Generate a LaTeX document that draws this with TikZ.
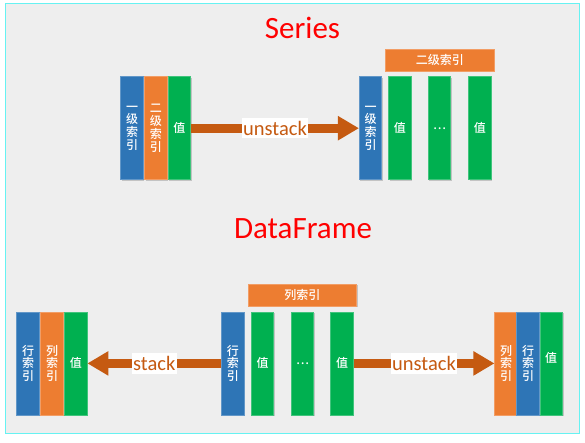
\documentclass[tikz,border=0pt]{standalone}
\usepackage{fontspec}
\setmainfont{Carlito}
\newfontfamily\cjk{Noto Sans CJK SC Medium}
\usetikzlibrary{arrows.meta,shadows}
\definecolor{cblue}{HTML}{2E75B6}
\definecolor{corange}{HTML}{ED7D31}
\definecolor{cgreen}{HTML}{00B050}
\definecolor{carrow}{HTML}{C55A11}
\definecolor{cbg}{HTML}{EEEEEE}
\definecolor{cframe}{HTML}{66F2F2}
\tikzset{
  bar/.style={rectangle, minimum width=22.5pt, minimum height=103pt, inner sep=0pt,
    text=white, align=center, font=\cjk\fontsize{12}{12.9}\selectfont,
    draw=#1!75!white, line width=0.6pt, fill=#1,
    drop shadow={shadow xshift=1.2pt, shadow yshift=-1.2pt, opacity=0.18, fill=black}},
  header/.style={rectangle, minimum width=108.5pt, minimum height=22pt, inner sep=0pt,
    text=white, font=\cjk\fontsize{12}{12.9}\selectfont,
    draw=corange!75!white, line width=0.6pt, fill=corange,
    drop shadow={shadow xshift=1.2pt, shadow yshift=-1.2pt, opacity=0.18, fill=black}},
  arr/.style={draw=carrow, line width=9pt, -{Triangle[length=21pt,width=23pt]}},
  lab/.style={fill=white, text=carrow, inner xsep=1.5pt, inner ysep=3pt,
    font=\fontsize{20.5}{24}\selectfont},
  title/.style={text=red, font=\fontsize{31}{34}\selectfont, anchor=base, inner sep=0pt}
}
\begin{document}
\begin{tikzpicture}[x=1pt,y=-1pt]
\useasboundingbox (0,0) rectangle (585,442);
\fill[white] (0,0) rectangle (585,442);
\draw[cframe, fill=cbg, line width=1pt] (5,3.5) rectangle (579.5,433.5);

% titles
\node[title] (t1) at (302.5,38) {Series};
\node[title] (t2) at (303,238) {DataFrame};

% Series left
\node[bar=cblue] (sa) at (132,128.2) {一\\级\\索\\引};
\node[bar=corange] (sb) at (155.8,128.2) {二\\级\\索\\引};
\node[bar=cgreen] (sc) at (179.4,128.2) {值};

% Series right
\node[bar=cblue] (ra) at (370.5,128.2) {一\\级\\索\\引};
\node[bar=cgreen] (rb) at (399.9,128.2) {值};
\node[bar=cgreen] (rc) at (439.5,128.2) {…};
\node[bar=cgreen] (rd) at (479.9,128.2) {值};
\node[header] (rh) at (439.9,60) {二级索引};

\draw[arr] (sc) -- (ra) node[lab, midway] (l1) {unstack};

% DataFrame left
\node[bar=cblue] (la) at (28,363.4) {行\\索\\引};
\node[bar=corange] (lb) at (52,363.4) {列\\索\\引};
\node[bar=cgreen] (lc) at (75.8,363.4) {值};

% DataFrame middle
\node[bar=cblue] (ma) at (232.8,363.4) {行\\索\\引};
\node[bar=cgreen] (mb) at (262.5,363.4) {值};
\node[bar=cgreen] (mc) at (302.5,363.4) {…};
\node[bar=cgreen] (md) at (342,363.4) {值};
\node[header] (mh) at (302.4,295.2) {列索引};

% DataFrame right
\node[bar=corange] (qa) at (506,363.4) {列\\索\\引};
\node[bar=cblue] (qb) at (528,363.4) {行\\索\\引};
\node[bar=cgreen, text depth=12pt] (qc) at (551.2,363.4) {值};

\draw[arr] (ma) -- (lc) node[lab, midway] (l2) {stack};
\draw[arr] (md) -- (qa) node[lab, midway] (l3) {unstack};
\end{tikzpicture}
\end{document}
